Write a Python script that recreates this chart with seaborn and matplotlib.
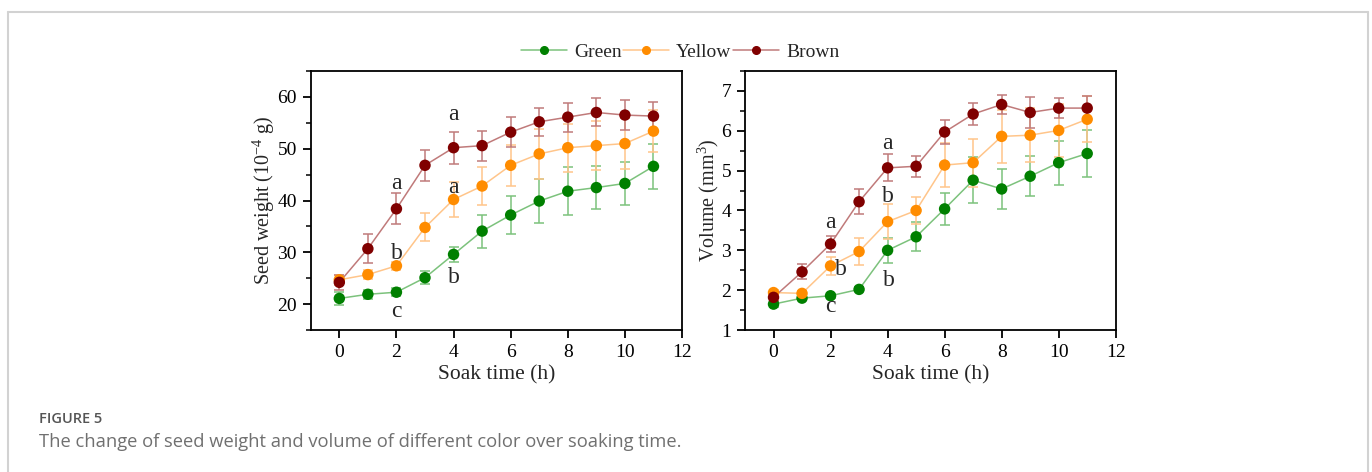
import numpy as np
import pandas as pd
import matplotlib
matplotlib.use("Agg")
import matplotlib.pyplot as plt
from matplotlib.lines import Line2D
from matplotlib.ticker import MultipleLocator
import seaborn as sns

# ---------------- data ----------------
hours = [0, 1, 2, 3, 4, 5, 6, 7, 8, 9, 10, 11]
series_names = ["Green", "Yellow", "Brown"]

weight_green = [21.1, 21.9, 22.3, 25.1, 29.6, 34.1, 37.2, 39.9, 41.8, 42.5, 43.3, 46.6]
weight_yellow = [24.7, 25.7, 27.4, 34.8, 40.2, 42.8, 46.8, 49.0, 50.2, 50.6, 51.0, 53.4]
weight_brown = [24.2, 30.7, 38.4, 46.8, 50.2, 50.6, 53.2, 55.2, 56.1, 57.0, 56.5, 56.3]
weight_green_sd = [1.2, 0.9, 0.8, 1.2, 1.5, 3.2, 3.7, 4.3, 4.6, 4.2, 4.2, 4.4]
weight_yellow_sd = [1.0, 0.9, 0.8, 2.7, 3.4, 3.6, 4.0, 4.8, 4.6, 4.7, 5.0, 4.1]
weight_brown_sd = [1.4, 2.8, 3.0, 3.0, 3.1, 2.9, 2.9, 2.7, 2.8, 2.7, 2.9, 2.8]

volume_green = [1.65, 1.80, 1.86, 2.02, 3.00, 3.34, 4.04, 4.76, 4.54, 4.86, 5.20, 5.43]
volume_yellow = [1.94, 1.92, 2.61, 2.97, 3.72, 4.00, 5.14, 5.20, 5.86, 5.89, 6.01, 6.29]
volume_brown = [1.82, 2.46, 3.16, 4.22, 5.07, 5.11, 5.97, 6.42, 6.66, 6.46, 6.57, 6.57]
volume_green_sd = [0.06, 0.05, 0.05, 0.05, 0.31, 0.36, 0.40, 0.58, 0.51, 0.50, 0.55, 0.58]
volume_yellow_sd = [0.06, 0.05, 0.23, 0.33, 0.44, 0.35, 0.56, 0.60, 0.66, 0.67, 0.66, 0.58]
volume_brown_sd = [0.10, 0.19, 0.20, 0.31, 0.34, 0.26, 0.29, 0.27, 0.23, 0.38, 0.25, 0.30]

# significance letters: (x, y, text)
weight_letters_x = [4, 2, 4, 2, 4, 2]
weight_letters_y = [56.6, 43.2, 42.6, 29.8, 25.1, 18.5]
weight_letters_t = ["a", "a", "a", "b", "b", "c"]
volume_letters_x = [4, 2, 4, 2.38, 4.05, 2]
volume_letters_y = [5.68, 3.69, 4.34, 2.52, 2.24, 1.59]
volume_letters_t = ["a", "a", "b", "b", "b", "c"]

marker_colors = {"Green": "#008000", "Yellow": "#ff8c00", "Brown": "#800000"}
line_colors = {"Green": "#7cc27c", "Yellow": "#ffc58a", "Brown": "#c07a7a"}

def long_frame(vals, sds):
    rows = []
    for name, v, s in zip(series_names, vals, sds):
        for h, vv, ss in zip(hours, v, s):
            rows.append({"Soak time (h)": h, "value": vv, "sd": ss, "Color": name})
    return pd.DataFrame(rows)

df_w = long_frame([weight_green, weight_yellow, weight_brown],
                  [weight_green_sd, weight_yellow_sd, weight_brown_sd])
df_v = long_frame([volume_green, volume_yellow, volume_brown],
                  [volume_green_sd, volume_yellow_sd, volume_brown_sd])

# ---------------- style ----------------
sns.set_theme(style="ticks")
plt.rcParams["font.family"] = ["Liberation Serif", "DejaVu Serif"]
plt.rcParams["mathtext.fontset"] = "custom"
plt.rcParams["mathtext.rm"] = "Liberation Serif"
plt.rcParams["mathtext.it"] = "Liberation Serif:italic"
plt.rcParams["axes.linewidth"] = 1.3

fig = plt.figure(figsize=(13.72, 4.72), dpi=100)
fig.patch.set_facecolor("white")

ax1 = fig.add_axes([0.2265, 0.3008, 0.2706, 0.5487])
ax2 = fig.add_axes([0.5430, 0.3008, 0.2702, 0.5487])


def draw(ax, df):
    for name in series_names:
        sub = df[df["Color"] == name]
        ax.errorbar(sub["Soak time (h)"], sub["value"], yerr=sub["sd"], fmt="none",
                    ecolor=line_colors[name], elinewidth=1.1, capsize=3.8, capthick=1.1,
                    zorder=1)
    sns.lineplot(data=df, x="Soak time (h)", y="value", hue="Color",
                 hue_order=series_names, palette=line_colors, linewidth=1.1,
                 ax=ax, legend=False, zorder=2, errorbar=None)
    sns.scatterplot(data=df, x="Soak time (h)", y="value", hue="Color",
                    hue_order=series_names, palette=marker_colors, s=68,
                    edgecolor="none", ax=ax, legend=False, zorder=3)
    ax.set_xlim(-1, 12)
    ax.xaxis.set_major_locator(MultipleLocator(2))
    ax.tick_params(axis="both", which="major", direction="out", length=6, width=1.3,
                   labelsize=14, color="black", labelcolor="black", pad=4)
    ax.tick_params(axis="y", which="minor", direction="out", length=3.5, width=1.3)
    for sp in ax.spines.values():
        sp.set_visible(True)
        sp.set_color("black")
        sp.set_linewidth(1.3)
    ax.set_xlabel("Soak time (h)", fontsize=15.5, labelpad=3)


draw(ax1, df_w)
ax1.set_ylim(15, 65)
ax1.yaxis.set_major_locator(MultipleLocator(10))
ax1.yaxis.set_minor_locator(MultipleLocator(5))
ax1.set_ylabel("Seed weight (10$^{-4}$ g)", fontsize=14.5, labelpad=0.5)
for x, y, t in zip(weight_letters_x, weight_letters_y, weight_letters_t):
    ax1.text(x, y, t, fontsize=17, ha="center", va="center", zorder=4)

draw(ax2, df_v)
ax2.set_ylim(1, 7.5)
ax2.yaxis.set_major_locator(MultipleLocator(1))
ax2.yaxis.set_minor_locator(MultipleLocator(0.5))
ax2.set_ylabel("Volume (mm$^3$)", fontsize=14.5, labelpad=0.5)
for x, y, t in zip(volume_letters_x, volume_letters_y, volume_letters_t):
    ax2.text(x, y, t, fontsize=17, ha="center", va="center", zorder=4)

# legend
handles = [Line2D([0], [0], color=line_colors[n], lw=1.1, marker="o",
                  markerfacecolor=marker_colors[n], markeredgecolor=marker_colors[n],
                  markersize=5.5) for n in series_names]
fig.legend(handles, series_names, loc="center", bbox_to_anchor=(0.4956, 0.89),
           ncol=3, frameon=False, fontsize=14, handlelength=2.4, handletextpad=0.35,
           columnspacing=0.05)

# caption
fig.text(0.0284, 0.112, "FIGURE 5", fontsize=10.5, color="#555555",
         family=["Open Sans", "DejaVu Sans"], fontweight="semibold", va="center")
fig.text(0.0284, 0.064,
         "The change of seed weight and volume of different color over soaking time.",
         fontsize=13.2, color="#707070", family=["Open Sans", "DejaVu Sans"], va="center")

# light frame around the figure panel
W, H = 1372.0, 472.0
bc = "#d2d2d2"
fig.add_artist(Line2D([8 / W, 8 / W], [0, 1 - 12 / H], transform=fig.transFigure, color=bc, lw=1.5))
fig.add_artist(Line2D([8 / W, 1368 / W], [1 - 12 / H, 1 - 12 / H], transform=fig.transFigure, color=bc, lw=1.5))
fig.add_artist(Line2D([1368 / W, 1368 / W], [0, 1 - 12 / H], transform=fig.transFigure, color=bc, lw=1.5))

fig.savefig("out.png", dpi=100, facecolor="white")
